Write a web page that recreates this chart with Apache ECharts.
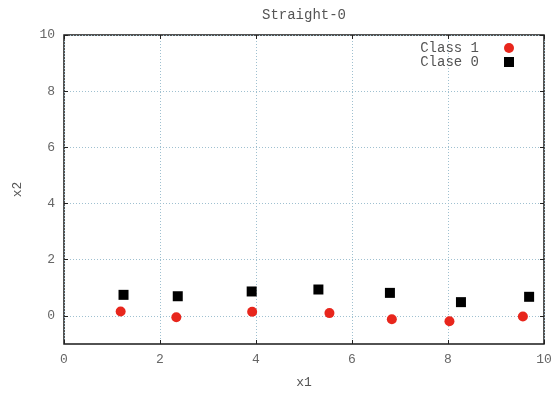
<!DOCTYPE html>
<html>
<head>
<meta charset="utf-8">
<script src="https://cdn.jsdelivr.net/npm/echarts@6/dist/echarts.min.js"></script>
<style>
  html, body { margin: 0; padding: 0; background: #fff; }
  #chart { width: 557px; height: 394px; }
</style>
</head>
<body>
<div id="chart"></div>
<script>
// Class 1 samples (red circles)
const class1X = [1.18, 2.34, 3.92, 5.53, 6.83, 8.03, 9.56];
const class1Y = [0.16, -0.05, 0.15, 0.10, -0.12, -0.19, -0.02];
// Clase 0 samples (black squares)
const class0X = [1.24, 2.37, 3.91, 5.30, 6.79, 8.27, 9.69];
const class0Y = [0.75, 0.70, 0.87, 0.94, 0.82, 0.49, 0.68];
// Tick labels
const xTicks = [0, 2, 4, 6, 8, 10];
const yTicks = [0, 2, 4, 6, 8, 10];

const mono = '"Liberation Mono", "DejaVu Sans Mono", monospace';
const textGray = '#666';
const gridLine = { show: true, lineStyle: { color: '#9fc0d0', type: [1, 2], width: 1 } };
const innerTick = { show: true, inside: true, length: 4, lineStyle: { color: '#222' } };

const pairs = (xs, ys) => xs.map((x, i) => [x, ys[i]]);

const chart = echarts.init(document.getElementById('chart'), null, { renderer: 'canvas' });
chart.setOption({
  animation: false,
  backgroundColor: '#fff',
  title: {
    text: 'Straight-0',
    left: 257,
    top: 3,
    textStyle: { fontFamily: mono, fontSize: 14, fontWeight: 'normal', color: '#555' }
  },
  legend: {
    orient: 'vertical',
    right: 38,
    top: 36,
    align: 'right',
    itemWidth: 10,
    itemHeight: 10,
    itemGap: 0,
    textStyle: { fontFamily: mono, fontSize: 14, color: '#555', padding: [0, 20, 0, 0] },
    data: [
      { name: 'Class 1', icon: 'circle' },
      { name: 'Clase 0', icon: 'rect' }
    ]
  },
  grid: {
    left: 64, right: 13, top: 35, bottom: 46,
    show: true, borderColor: '#1a1a1a', borderWidth: 1.5
  },
  xAxis: [
    {
      type: 'value', min: 0, max: 10, interval: 2,
      name: 'x1', nameLocation: 'middle', nameGap: 32,
      nameTextStyle: { fontFamily: mono, fontSize: 13, color: '#555' },
      axisLine: { show: false, onZero: false },
      axisTick: innerTick,
      axisLabel: { fontFamily: mono, fontSize: 13, color: textGray, margin: 9,
                   customValues: xTicks },
      splitLine: gridLine
    },
    {
      type: 'value', min: 0, max: 10, interval: 2, position: 'top',
      axisLine: { show: false, onZero: false },
      axisTick: innerTick,
      axisLabel: { show: false },
      splitLine: { show: false }
    }
  ],
  yAxis: [
    {
      type: 'value', min: -1, max: 10,
      name: 'x2', nameLocation: 'middle', nameGap: 40, nameRotate: 90,
      nameTextStyle: { fontFamily: mono, fontSize: 13, color: '#555' },
      axisLine: { show: false, onZero: false },
      axisTick: Object.assign({ customValues: yTicks }, innerTick),
      axisLabel: { fontFamily: mono, fontSize: 13, color: textGray, margin: 9,
                   customValues: yTicks },
      splitLine: gridLine
    },
    {
      type: 'value', min: -1, max: 10, position: 'right',
      axisLine: { show: false, onZero: false },
      axisTick: Object.assign({ customValues: yTicks }, innerTick),
      axisLabel: { show: false },
      splitLine: { show: false }
    }
  ],
  series: [
    {
      name: 'Class 1', type: 'scatter', symbol: 'circle', symbolSize: 10,
      itemStyle: { color: '#e8261c', opacity: 1 },
      data: pairs(class1X, class1Y)
    },
    {
      name: 'Clase 0', type: 'scatter', symbol: 'rect', symbolSize: 10,
      itemStyle: { color: '#000', opacity: 1 },
      data: pairs(class0X, class0Y)
    }
  ]
});
</script>
</body>
</html>
